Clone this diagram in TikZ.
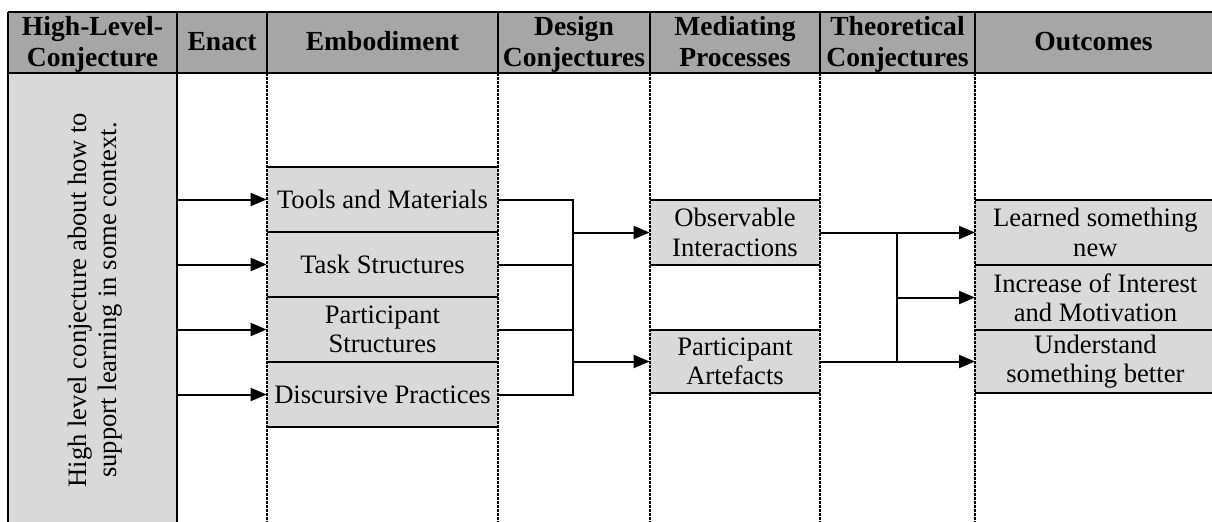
\documentclass[tikz,border=0pt]{standalone}
\usepackage{fontspec}
\setmainfont{Liberation Serif}
\usetikzlibrary{arrows.meta}
\definecolor{hdr}{RGB}{166,166,166}
\definecolor{cellg}{RGB}{217,217,217}
\begin{document}
\begin{tikzpicture}[x=0.5pt,y=-0.5pt,
  hdrtext/.style={font=\bfseries\fontsize{13.8}{15.5}\selectfont, align=center, inner sep=0},
  body/.style={font=\fontsize{13.3}{14.7}\selectfont, align=center, inner sep=0},
  gbox/.style={fill=cellg, inner sep=0, minimum height=32.5pt, body},
  rule/.style={line width=1pt},
  hrule/.style={line width=1.2pt},
  colline/.style={line width=1pt, dash pattern=on 1.5pt off 0.5pt},
  arr/.style={line width=1pt, -{Triangle[length=8pt,width=6.5pt]}},
]
\useasboundingbox (0,0) rectangle (1212,521);
\clip (0,0) rectangle (1212,521);
% header background
\fill[hdr] (8,12) rectangle (1216,73);
% left cell
\node[fill=cellg, anchor=north west, minimum width=84.5pt, minimum height=235pt, inner sep=0] (hlc) at (8,73) {};
\node[body, rotate=90, font=\fontsize{13.3}{15}\selectfont] (hlctext) at (95,300) {High level conjecture about how to\\support learning in some context.};
% header texts
\node[hdrtext] (h1) at (92.5,45) {\strut High-Level-\\Conjecture\strut};
\node[hdrtext] (h2) at (222,44) {\strut Enact};
\node[hdrtext] (h3) at (382.5,44) {\strut Embodiment};
\node[hdrtext] (h4) at (574,45) {\strut Design\\Conjectures\strut};
\node[hdrtext] (h5) at (735,45) {\strut Mediating\\Processes\strut};
\node[hdrtext] (h6) at (897.5,45) {\strut Theoretical\\Conjectures\strut};
\node[hdrtext] (h7) at (1093.5,44) {\strut Outcomes};
% embodiment boxes
\node[gbox, minimum width=115.5pt] (tm) at (382.5,199.5) {Tools and Materials};
\node[gbox, minimum width=115.5pt] (ts) at (382.5,264.5) {Task Structures};
\node[gbox, minimum width=115.5pt] (ps) at (382.5,329.5) {Participant\\Structures};
\node[gbox, minimum width=115.5pt] (dp) at (382.5,394.5) {Discursive Practices};
% mediating processes
\node[gbox, minimum width=85pt] (oi) at (735,232.5) {Observable\\Interactions};
\node[gbox, minimum width=85pt, minimum height=31.5pt] (pa) at (735,361.5) {Participant\\Artefacts};
% outcomes
\node[gbox, minimum width=120pt, anchor=west] (ls) at (975,232.5) {Learned something\\new};
\node[gbox, minimum width=120pt, anchor=west] (ii) at (975,297.5) {Increase of Interest\\and Motivation};
\node[gbox, minimum width=120pt, anchor=west, minimum height=31.5pt] (us) at (975,361.5) {Understand\\something better};
% box rules
\foreach \b in {tm,ts,ps,dp,oi,pa,ls,ii,us}{
  \draw[rule] (\b.north west) -- (\b.north east);
  \draw[rule] (\b.south west) -- (\b.south east);
}
% header grid
\draw[hrule] (8,12) -- (1216,12);
\draw[hrule] (8,73) -- (1216,73);
\foreach \x in {8,177,267,498,650,820,975}{
  \draw[hrule] (\x,12) -- (\x,73);
}
% body columns
\draw[rule] (8,73) -- (8,545);
\draw[rule] (177,73) -- (177,545);
\foreach \x in {267,498,650,820,975}{
  \draw[colline] (\x,73) -- (\x,545);
}
% arrows from high-level conjecture
\foreach \b in {tm,ts,ps,dp}{
  \draw[arr] (hlc.east |- \b.west) -- (\b.west);
}
% design conjectures bracket
\coordinate (b1) at (573,0);
\draw[rule] (tm.east) -- (tm.east -| b1) -- (dp.east -| b1) -- (dp.east);
\draw[rule] (ts.east) -- (ts.east -| b1);
\draw[rule] (ps.east) -- (ps.east -| b1);
\draw[arr] (oi.west -| b1) -- (oi.west);
\draw[arr] (pa.west -| b1) -- (pa.west);
% theoretical conjectures bracket
\coordinate (b2) at (897,0);
\draw[arr] (oi.east) -- (ls.west);
\draw[arr] (pa.east) -- (us.west);
\draw[rule] (oi.east -| b2) -- (pa.east -| b2);
\draw[arr] (ii.west -| b2) -- (ii.west);
\end{tikzpicture}
\end{document}
